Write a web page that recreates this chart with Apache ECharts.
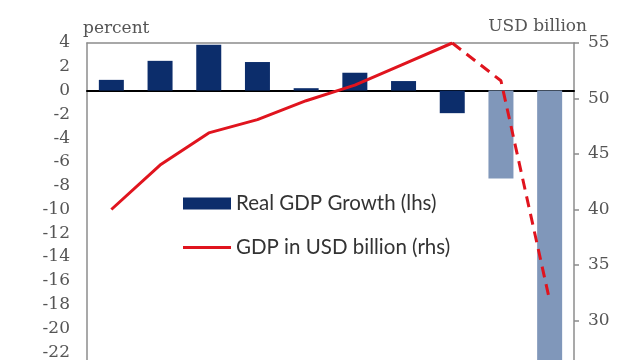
<!DOCTYPE html>
<html>
<head>
<meta charset="utf-8">
<script src="https://cdn.jsdelivr.net/npm/echarts@6/dist/echarts.min.js"></script>
<style>
html,body{margin:0;padding:0;background:#fff;}
#chart{width:640px;height:360px;}
</style>
</head>
<body>
<div id="chart"></div>
<script>
var categories = ['1','2','3','4','5','6','7','8','9','10'];
var realGrowth = [0.9, 2.5, 3.85, 2.4, 0.2, 1.5, 0.8, -1.9, -7.4, -25];
var projected = [false, false, false, false, false, false, false, false, true, true];
var gdpActual = [40, 44, 46.9, 48.1, 49.8, 51.2, 53.1, 55, null, null];
var gdpProjection = [null, null, null, null, null, null, null, 55, 51.6, 31.8];
var leftTicks = {min: -24, max: 4, interval: 2};
var rightTicks = {min: 25, max: 55, interval: 5};

var darkBar = '#0c2d6b';
var lightBar = '#8097ba';
var red = '#e0141e';
var serif = 'DejaVu Serif';

var chart = echarts.init(document.getElementById('chart'), null, {renderer: 'canvas'});
chart.setOption({
  animation: false,
  backgroundColor: '#fff',
  grid: {left: 87, right: 66, top: 43, height: 333, outerBoundsMode: 'none', containLabel: false},
  legend: {
    orient: 'vertical',
    left: 183,
    top: 192,
    padding: 0,
    itemWidth: 48,
    itemHeight: 12,
    itemGap: 21,
    textStyle: {fontFamily: 'Lato', fontSize: 20.5, color: '#333', lineHeight: 23},
    data: [
      {name: 'Real GDP Growth (lhs)', icon: 'rect'},
      {name: 'GDP in USD billion (rhs)', icon: 'path://M0,0L48,0L48,3L0,3Z'}
    ]
  },
  xAxis: [{
    type: 'category',
    data: categories,
    boundaryGap: true,
    axisLine: {onZero: true, onZeroAxisIndex: 0, lineStyle: {color: '#000', width: 2}},
    axisTick: {show: false},
    axisLabel: {show: false},
    splitLine: {show: false}
  }, {
    type: 'category',
    data: categories,
    position: 'top',
    axisLine: {onZero: false, lineStyle: {color: '#8c8c8c', width: 1.5}},
    axisTick: {show: false},
    axisLabel: {show: false}
  }],
  yAxis: [{
    type: 'value',
    min: leftTicks.min, max: leftTicks.max, interval: leftTicks.interval,
    name: 'percent',
    nameLocation: 'end',
    nameGap: 6,
    nameTextStyle: {fontFamily: serif, fontSize: 17, color: '#555', align: 'left', padding: [0, 0, 0, -4]},
    axisLine: {show: true, lineStyle: {color: '#8c8c8c', width: 1.5}},
    axisTick: {show: false},
    axisLabel: {fontFamily: serif, fontSize: 17, color: '#555', margin: 17},
    splitLine: {show: false}
  }, {
    type: 'value',
    position: 'right',
    min: rightTicks.min, max: rightTicks.max, interval: rightTicks.interval,
    name: 'USD billion',
    nameLocation: 'end',
    nameGap: 4,
    nameTextStyle: {fontFamily: serif, fontSize: 17, color: '#555', align: 'right', padding: [0, -13, 0, 0]},
    axisLine: {show: true, lineStyle: {color: '#8c8c8c', width: 1.5}},
    axisTick: {show: true, inside: false, length: 5, lineStyle: {color: '#8c8c8c', width: 1.5}},
    axisLabel: {fontFamily: serif, fontSize: 17, color: '#555', margin: 14},
    splitLine: {show: false}
  }],
  series: [{
    name: 'Real GDP Growth (lhs)',
    type: 'bar',
    xAxisIndex: 0,
    yAxisIndex: 0,
    barWidth: 25,
    itemStyle: {color: darkBar},
    data: realGrowth.map(function (v, i) {
      return {value: v, itemStyle: {color: projected[i] ? lightBar : darkBar}};
    })
  }, {
    name: 'GDP in USD billion (rhs)',
    type: 'line',
    xAxisIndex: 0,
    yAxisIndex: 1,
    symbol: 'none',
    lineStyle: {color: red, width: 3},
    itemStyle: {color: red},
    data: gdpActual
  }, {
    name: 'GDP projection',
    type: 'line',
    xAxisIndex: 0,
    yAxisIndex: 1,
    symbol: 'none',
    lineStyle: {color: red, width: 3, type: [11, 7]},
    itemStyle: {color: red},
    data: gdpProjection
  }]
});
</script>
</body>
</html>
